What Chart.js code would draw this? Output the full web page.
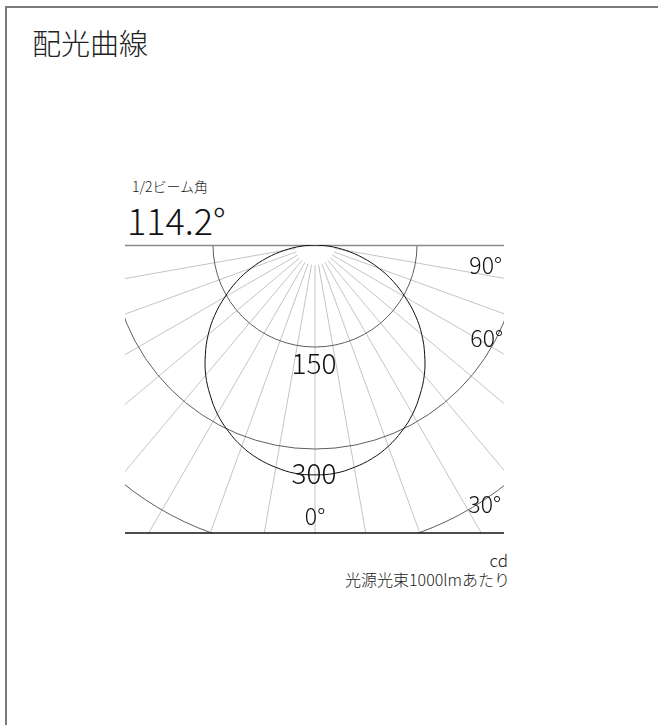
<!DOCTYPE html>
<html>
<head>
<meta charset="utf-8">
<script src="https://cdn.jsdelivr.net/npm/chart.js@4"></script>
<style>
  html, body { margin: 0; padding: 0; background: #fff; }
  body { width: 658px; height: 725px; position: relative; overflow: hidden;
         font-family: "Noto Sans CJK JP", "Noto Sans", sans-serif; font-weight: 300; color: #222; }
  .frame { position: absolute; left: 5px; top: 6px; width: 700px; height: 800px; border: 2px solid #7a7a7a; }
  .txt { position: absolute; line-height: 1; white-space: nowrap; }
  #chart { position: absolute; left: 0; top: 0; }
</style>
</head>
<body>
<div class="frame"></div>
<div class="txt" style="left:32px; top:28px; font-size:29px;">配光曲線</div>
<div class="txt" style="left:132px; top:179px; font-size:14px;">1/2ビーム角</div>
<div class="txt" style="left:127px; top:201px; font-size:36px; color:#111;">114.2°</div>
<div class="txt" style="right:150px; top:551px; font-size:17px; text-align:right;">cd</div>
<div class="txt" style="right:148px; top:571px; font-size:16px; text-align:right;">光源光束1000lmあたり</div>
<canvas id="chart" width="658" height="725"></canvas>

<script>
// data (cd per 1000 lm), symmetric around 0°
const angles = [0, 5, 10, 15, 20, 25, 30, 35, 40, 45, 50, 55, 60, 65, 70, 75, 80, 85, 90];
const intensity = [338, 337, 332, 325, 315, 302, 287, 269, 250, 228, 205, 180, 153, 127, 100, 73, 46, 21, 0];
const ringValues = [150, 300, 450];
const ringLabels = ['150', '300'];
const spokeAngles = [-90, -80, -70, -60, -50, -40, -30, -20, -10, 0, 10, 20, 30, 40, 50, 60, 70, 80, 90];
const angleLabels = ['0°', '30°', '60°', '90°'];

const rad = d => d * Math.PI / 180;

// polar -> x/y in cd units (x sideways, y downwards)
const points = [];
for (let i = angles.length - 1; i > 0; i--) {
  points.push({ x: -intensity[i] * Math.sin(rad(angles[i])), y: intensity[i] * Math.cos(rad(angles[i])) });
}
for (let i = 0; i < angles.length; i++) {
  points.push({ x: intensity[i] * Math.sin(rad(angles[i])), y: intensity[i] * Math.cos(rad(angles[i])) });
}

const polarGrid = {
  id: 'polarGrid',
  beforeDatasetsDraw(chart) {
    const { ctx, chartArea: a, scales: { x, y } } = chart;
    const cx = x.getPixelForValue(0), cy = y.getPixelForValue(0);
    const px = v => x.getPixelForValue(v) - cx;
    ctx.save();
    ctx.beginPath();
    ctx.rect(a.left, a.top, a.right - a.left, a.bottom - a.top);
    ctx.clip();
    // spokes
    ctx.strokeStyle = '#c4c4c4';
    ctx.lineWidth = 1;
    spokeAngles.forEach(d => {
      const s = Math.sin(rad(d)), c = Math.cos(rad(d));
      ctx.beginPath();
      ctx.moveTo(cx + 20 * s, cy + 20 * c);
      ctx.lineTo(cx + 800 * s, cy + 800 * c);
      ctx.stroke();
    });
    // rings
    ctx.strokeStyle = '#5e5e5e';
    ringValues.forEach(v => {
      ctx.beginPath();
      ctx.arc(cx, cy, px(v), 0, Math.PI);
      ctx.stroke();
    });
    ctx.restore();
    // box lines
    ctx.save();
    ctx.strokeStyle = '#8a8a8a';
    ctx.lineWidth = 1.5;
    ctx.beginPath();
    ctx.moveTo(a.left, a.top + 0.5);
    ctx.lineTo(a.right, a.top + 0.5);
    ctx.stroke();
    ctx.strokeStyle = '#111';
    ctx.lineWidth = 1.5;
    ctx.beginPath();
    ctx.moveTo(a.left, a.bottom);
    ctx.lineTo(a.right, a.bottom);
    ctx.stroke();
    ctx.restore();
  },
  afterDatasetsDraw(chart) {
    const { ctx, chartArea: a, scales: { x, y } } = chart;
    const cx = x.getPixelForValue(0);
    ctx.save();
    ctx.fillStyle = '#111';
    ctx.textAlign = 'center';
    ctx.textBaseline = 'middle';
    ctx.font = '300 28px "Noto Sans CJK JP"';
    const offs = [16, 24];
    ringLabels.forEach((t, i) => {
      ctx.fillText(t, cx - 1, y.getPixelForValue(ringValues[i]) + offs[i]);
    });
    ctx.font = '300 23px "Noto Sans CJK JP"';
    ctx.fillText(angleLabels[0], cx, a.bottom - 17);
    ctx.textAlign = 'right';
    ctx.fillText(angleLabels[1], a.right - 3, a.bottom - 29);
    ctx.fillText(angleLabels[2], a.right - 1, a.top + 93);
    ctx.fillText(angleLabels[3], a.right - 2, a.top + 20);
    ctx.restore();
  }
};

new Chart(document.getElementById('chart'), {
  type: 'scatter',
  data: {
    datasets: [{
      data: points,
      showLine: true,
      borderColor: '#111',
      borderWidth: 1,
      pointRadius: 0,
      tension: 0.4,
      fill: false
    }]
  },
  options: {
    responsive: false,
    animation: false,
    layout: { padding: { left: 125, top: 245, right: 154, bottom: 192 } },
    plugins: { legend: { display: false }, tooltip: { enabled: false } },
    scales: {
      x: { type: 'linear', min: -279.4, max: 277.9, display: false },
      y: { type: 'linear', min: 0, max: 423.5, reverse: true, display: false }
    }
  },
  plugins: [polarGrid]
});
</script>
</body>
</html>
